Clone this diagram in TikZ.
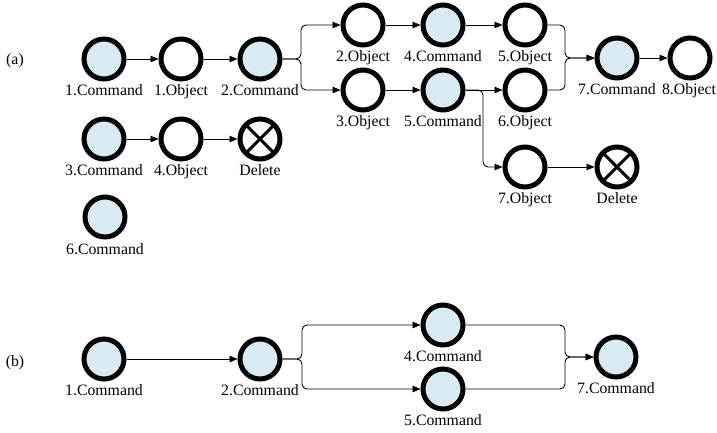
\documentclass[tikz,border=0pt]{standalone}
\usepackage{fontspec}
\setmainfont{Liberation Serif}
\usepackage{xcolor}
\usetikzlibrary{positioning, arrows.meta}
\definecolor{cmdblue}{RGB}{218,234,242}

\begin{document}
\begin{tikzpicture}[x=1pt, y=-1pt,
    command/.style={circle, draw, line width=5pt, fill=cmdblue, minimum size=40pt, inner sep=0pt},
    object/.style={circle, draw, line width=5pt, fill=white, minimum size=40pt, inner sep=0pt},
    delete/.style={object, path picture={\draw[line width=3pt] (path picture bounding box.north west) -- (path picture bounding box.south east) (path picture bounding box.north east) -- (path picture bounding box.south west);}},
    lbl/.style={font=\fontsize{15.8}{18}\selectfont, inner sep=0pt, text height=11pt, text depth=3pt},
    arrow/.style={-{Triangle[length=8pt,width=6.5pt]}, line width=0.9pt},
    branch/.style={arrow, rounded corners=5pt}
]
    \useasboundingbox (0,0) rectangle (717,432);

    % Part (a)
    \node[lbl] (parta) at (15,60) {(a)};

    % first chain
    \node[command] (a1) at (104,59) {};
    \node[object] (ao1) at (181,59) {};
    \node[command] (a2) at (260,59) {};
    \node[object] (ao2) at (363,25) {};
    \node[command] (a4) at (443,25) {};
    \node[object] (ao5) at (525,25) {};
    \node[object] (ao3) at (363,90) {};
    \node[command] (a5) at (443,90) {};
    \node[object] (ao6) at (525,90) {};
    \node[command] (a7) at (617,58) {};
    \node[object] (ao8) at (690,58) {};
    \node[object] (ao7) at (525,167) {};
    \node[delete] (adel2) at (617,167) {};

    % second chain and single command
    \node[command] (a3) at (104,139) {};
    \node[object] (ao4) at (181,139) {};
    \node[delete] (adel1) at (260,139) {};
    \node[command] (a6) at (105,217) {};

    % names under the circles
    \node[lbl, below=3pt of a1] (a1t) {1.Command};
    \node[lbl, below=3pt of ao1] (ao1t) {1.Object};
    \node[lbl, below=3pt of a2] (a2t) {2.Command};
    \node[lbl, below=3pt of ao2] (ao2t) {2.Object};
    \node[lbl, below=3pt of a4] (a4t) {4.Command};
    \node[lbl, below=3pt of ao5] (ao5t) {5.Object};
    \node[lbl, below=3pt of ao3] (ao3t) {3.Object};
    \node[lbl, below=3pt of a5] (a5t) {5.Command};
    \node[lbl, below=3pt of ao6] (ao6t) {6.Object};
    \node[lbl, below=3pt of a7] (a7t) {7.Command};
    \node[lbl, below=3pt of ao8, xshift=-1pt] (ao8t) {8.Object};
    \node[lbl, below=3pt of ao7] (ao7t) {7.Object};
    \node[lbl, below=3pt of adel2] (adel2t) {Delete};
    \node[lbl, below=3pt of a3] (a3t) {3.Command};
    \node[lbl, below=3pt of ao4] (ao4t) {4.Object};
    \node[lbl, below=3pt of adel1] (adel1t) {Delete};
    \node[lbl, below=4pt of a6] (a6t) {6.Command};

    % split and merge points
    \coordinate (as1) at (301,59);
    \coordinate (as2) at (483,90);
    \coordinate (am1) at (565,58);

    % arrows
    \draw[arrow] (a1) -- (ao1);
    \draw[arrow] (ao1) -- (a2);
    \draw[branch] (a2) -- (as1) |- (ao2);
    \draw[branch] (a2) -- (as1) |- (ao3);
    \draw[arrow] (ao2) -- (a4);
    \draw[arrow] (a4) -- (ao5);
    \draw[arrow] (ao3) -- (a5);
    \draw[arrow] (a5) -- (ao6);
    \draw[branch] (a5) -- (as2) |- (ao7);
    \draw[arrow] (ao7) -- (adel2);
    \draw[branch] (ao5) -| (am1) -- (a7);
    \draw[branch] (ao6) -| (am1) -- (a7);
    \draw[arrow] (a7) -- (ao8);
    \draw[arrow] (a3) -- (ao4);
    \draw[arrow] (ao4) -- (adel1);

    % Part (b)
    \node[lbl] (partb) at (15,362) {(b)};

    \node[command] (b1) at (104,359) {};
    \node[command] (b2) at (260,359) {};
    \node[command] (b4) at (443,325) {};
    \node[command] (b5) at (443,389) {};
    \node[command] (b7) at (616,357) {};

    \node[lbl, below=3pt of b1] (b1t) {1.Command};
    \node[lbl, below=3pt of b2] (b2t) {2.Command};
    \node[lbl, below=3pt of b4] (b4t) {4.Command};
    \node[lbl, below=3pt of b5] (b5t) {5.Command};
    \node[lbl, below=3pt of b7] (b7t) {7.Command};

    \coordinate (bs1) at (302,359);
    \coordinate (bm1) at (565,357);

    \draw[arrow] (b1) -- (b2);
    \draw[branch] (b2) -- (bs1) |- (b4);
    \draw[branch] (b2) -- (bs1) |- (b5);
    \draw[branch] (b4) -| (bm1) -- (b7);
    \draw[branch] (b5) -| (bm1) -- (b7);

\end{tikzpicture}
\end{document}
